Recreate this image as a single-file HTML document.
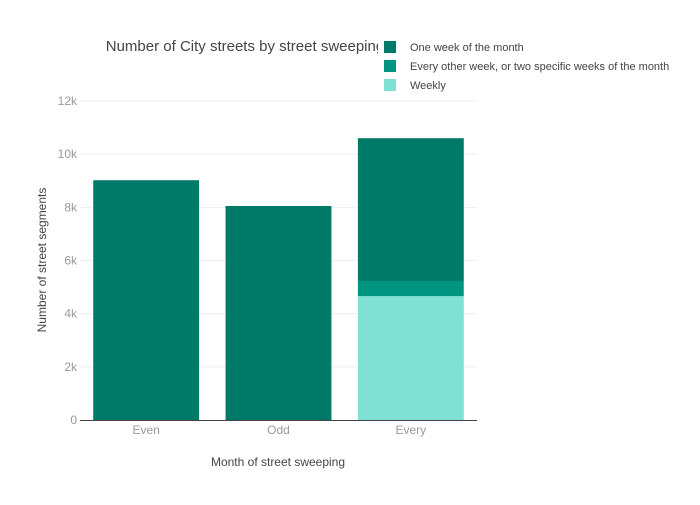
<!DOCTYPE html>
<html><head><meta charset="utf-8"><style>
body{margin:0;background:#fff;font-family:"Liberation Sans",sans-serif}
svg text{font-family:"Liberation Sans",sans-serif}
</style></head><body>
<svg width="700" height="500">
<g id="grid"></g>
<g id="bars"></g>
<line x1="80" x2="477" y1="420.5" y2="420.5" stroke="#444" stroke-width="1"/>
<g id="ticks"></g>
<text x="280" y="51" font-size="15" fill="#444" text-anchor="middle">Number of City streets by street sweeping frequency</text>
<text x="278" y="466" font-size="12" fill="#444" text-anchor="middle">Month of street sweeping</text>
<text transform="translate(46,260) rotate(-90)" font-size="12" fill="#444" text-anchor="middle">Number of street segments</text>
<g id="legend"><rect x="378" y="36" width="310" height="62" fill="#fff"/></g>
</svg>
<script>
const categories=["Even","Odd","Every"];
const seriesNames=["Weekly","Every other week, or two specific weeks of the month","One week of the month"];
const weekly=[0,0,4660];
const everyOther=[0,0,570];
const oneWeek=[9020,8050,5370];
const yTicks=[0,2000,4000,6000,8000,10000,12000];
const yTickLabels=["0","2k","4k","6k","8k","10k","12k"];
const colors=["#7fe0d4","#009580","#007a68"];
const NS="http://www.w3.org/2000/svg";
const x0=80,x1=477,y0=420,yMax=12000,yTop=101;
const y=v=>y0-(v/yMax)*(y0-yTop);
const band=(x1-x0)/categories.length;
const xc=i=>x0+band*(i+0.5);
const bw=band*0.8;
function mk(tag,attrs,parent){const e=document.createElementNS(NS,tag);for(const k in attrs)e.setAttribute(k,attrs[k]);document.getElementById(parent).appendChild(e);return e;}
yTicks.forEach((t,i)=>{
  if(t>0){const l=mk("line",{x1:x0,x2:x1,y1:y(t),y2:y(t),stroke:"#eee"},"grid");
  
  }
  const tx=mk("text",{x:77,y:y(t)+4,"font-size":12,fill:"#999","text-anchor":"end"},"ticks");
  tx.textContent=yTickLabels[i];
  
  
});
categories.forEach((c,i)=>{
  const tx=mk("text",{x:xc(i),y:434,"font-size":12,fill:"#999","text-anchor":"middle"},"ticks");
  tx.textContent=c;
  
  
  let base=0;
  [weekly,everyOther,oneWeek].forEach((s,j)=>{
    const v=s[i]; if(!v){return;}
    const r=mk("rect",{x:xc(i)-bw/2,y:y(base+v),width:bw,height:y(base)-y(base+v),fill:colors[j]},"bars");
    
    
    base+=v;
  });
});
const legItems=[[seriesNames[2],colors[2]],[seriesNames[1],colors[1]],[seriesNames[0],colors[0]]];
legItems.forEach((it,i)=>{
  const yy=47+i*19;
  const r=mk("rect",{x:384,y:yy-6,width:12,height:12,fill:it[1]},"legend");
  
  
  const t=mk("text",{x:410,y:yy+4,"font-size":11,fill:"#444"},"legend");
  t.textContent=it[0];
  
  
});
</script>
</body></html>
